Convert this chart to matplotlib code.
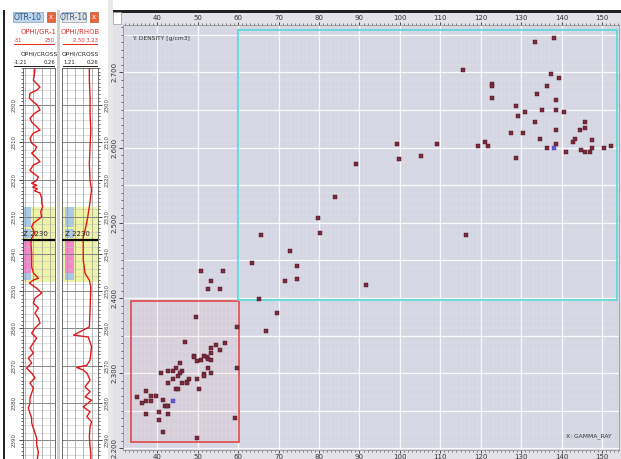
import numpy as np
import matplotlib
matplotlib.use('Agg')
import matplotlib.pyplot as plt
from matplotlib.patches import Rectangle

# ---- crossplot data: X = GAMMA_RAY, Y = DENSITY [g/cm3] ----
gamma_ray = [
    # lower cluster (red box)
    49.6, 59.7, 46.8, 56.7, 54.4, 53.3, 55.6, 53.3, 49.1, 49.1, 51.5, 52.2, 52.6, 50.7,
    49.7, 53.3, 45.6, 44.5, 52.6, 59.7, 42.6, 43.9, 46.2, 45.5, 40.8, 53.2, 45.0, 51.5,
    51.5, 43.8, 49.7, 47.9, 47.3, 42.6, 46.1, 47.3, 50.3, 44.5, 45.0, 37.3, 38.5, 39.7,
    35.0, 41.4, 37.3, 38.5, 36.1, 42.0, 42.6, 42.3, 40.3, 37.3, 42.6, 40.3, 59.1, 41.4,
    49.7,
    # transition
    99.2, 109.3, 99.9, 105.1, 89.2, 83.9, 79.7, 80.3, 65.6, 116.3, 72.7, 63.3, 74.5, 71.5,
    74.5, 91.6, 65.1, 69.7, 50.9, 56.3, 53.2, 52.6, 55.5, 66.8,
    # upper cluster (cyan box)
    133.4, 138.1, 115.7, 137.5, 139.3, 122.7, 122.7, 136.4, 134.0, 122.7, 138.7, 128.7,
    131.0, 135.2, 138.7, 140.5, 129.3, 133.4, 145.8, 145.8, 144.6, 127.5, 130.5, 138.7,
    134.6, 143.4, 147.6, 142.8, 121.1, 119.3, 121.7, 138.7, 136.4, 141.0, 144.7, 145.8,
    147.0, 147.6, 150.5, 152.3, 128.7,
]
density = [
    2.375, 2.361, 2.342, 2.340, 2.337, 2.334, 2.331, 2.327, 2.323, 2.321, 2.323, 2.321, 2.319, 2.318,
    2.316, 2.318, 2.314, 2.307, 2.307, 2.307, 2.303, 2.303, 2.303, 2.300, 2.300, 2.300, 2.297, 2.299,
    2.296, 2.292, 2.292, 2.292, 2.289, 2.287, 2.287, 2.287, 2.279, 2.279, 2.279, 2.276, 2.270, 2.270,
    2.268, 2.265, 2.263, 2.263, 2.260, 2.257, 2.257, 2.257, 2.249, 2.246, 2.246, 2.238, 2.241, 2.222,
    2.214,
    2.605, 2.605, 2.585, 2.589, 2.578, 2.535, 2.506, 2.487, 2.484, 2.484, 2.462, 2.446, 2.442, 2.423,
    2.425, 2.417, 2.399, 2.380, 2.436, 2.436, 2.423, 2.412, 2.412, 2.356,
    2.741, 2.746, 2.703, 2.698, 2.693, 2.684, 2.682, 2.682, 2.671, 2.666, 2.663, 2.655,
    2.647, 2.650, 2.650, 2.647, 2.642, 2.634, 2.634, 2.626, 2.623, 2.620, 2.620, 2.623,
    2.612, 2.612, 2.610, 2.607, 2.607, 2.602, 2.602, 2.605, 2.599, 2.594, 2.597, 2.594,
    2.594, 2.599, 2.599, 2.602, 2.586,
]
# selected (blue) samples
sel_gamma = [43.8, 138.1]
sel_density = [2.263, 2.599]

# zone boxes (x0, x1, y0, y1)
red_box = (33.4, 60.1, 2.208, 2.396)
cyan_box = (60.0, 153.6, 2.398, 2.757)

# ---- log tracks ----
gr_depth = [2290.0, 2291.5, 2293.3, 2295.1, 2296.0, 2296.8, 2298.1, 2299.1, 2300.0, 2301.3,
            2302.1, 2303.5, 2304.5, 2305.8, 2306.7, 2307.5, 2308.9, 2310.2, 2311.2, 2312.1,
            2312.9, 2314.2, 2315.2, 2316.1, 2317.5, 2318.3, 2319.3, 2320.2, 2321.0, 2321.5,
            2322.0, 2322.5, 2323.0, 2323.6, 2325.0, 2326.3, 2327.3, 2328.7, 2330.0, 2330.9,
            2331.7, 2332.7, 2333.6, 2334.4, 2335.7, 2337.1, 2339.8, 2341.6, 2343.4, 2345.1,
            2346.5, 2347.0, 2347.8, 2349.2, 2350.5, 2351.9, 2353.2, 2354.5, 2355.9, 2357.2,
            2358.6, 2359.9, 2361.3, 2362.6, 2363.9, 2365.3, 2366.6, 2368.0, 2369.3, 2370.7,
            2372.0, 2373.3, 2374.7, 2376.0, 2377.4, 2378.7, 2380.1, 2381.4, 2382.8, 2384.1,
            2385.4, 2386.8, 2388.1, 2389.5, 2391.3, 2393.2, 2395.0]
gr_value = [74, 70, 60, 118, 89, 30, 25, 60, 95, 118,
            74, 30, 45, 89, 118, 60, 30, 45, 89, 74,
            45, 89, 118, 60, 30, 60, 104, 89, 45, 89,
            55, 95, 70, 118, 133, 133, 142, 124, 133, 95,
            60, 45, 60, 74, 45, 39, 45, 45, 45, 60,
            104, 60, 25, 89, 133, 74, 60, 104, 74, 104,
            118, 74, 45, 89, 60, 30, 60, 16, 45, 1,
            45, 74, 30, 60, 45, 30, 30, 16, 30, 45,
            45, 60, 74, 89, 89, 104, 95]

rhob_depth = [2290.0, 2293.3, 2297.8, 2302.2, 2306.7, 2311.2, 2315.7, 2320.2, 2322.8, 2327.3,
              2330.9, 2333.6, 2335.4, 2338.1, 2341.6, 2345.2, 2347.0, 2348.8, 2355.1, 2359.6,
              2361.8, 2362.3, 2364.9, 2368.5, 2369.9, 2370.5, 2371.2, 2372.1, 2373.9, 2375.7,
              2377.0, 2378.4, 2379.3, 2381.1, 2382.4, 2383.7, 2385.1, 2386.4, 2389.1, 2391.8,
              2393.6, 2395.1]
rhob_value = [2.71, 2.71, 2.73, 2.73, 2.75, 2.73, 2.71, 2.73, 2.77, 2.71,
              2.65, 2.59, 2.54, 2.54, 2.54, 2.59, 2.71, 2.75, 2.73, 2.71,
              2.27, 2.68, 2.77, 2.73, 2.64, 2.36, 2.54, 2.65, 2.73, 2.59,
              2.73, 2.59, 2.77, 2.54, 2.73, 2.64, 2.77, 2.73, 2.71, 2.73,
              2.75, 2.75]

depth_labels = list(range(2300, 2400, 10))

# ------------------------------------------
W, H = 621, 459
fig = plt.figure(figsize=(W / 100, H / 100), dpi=100)
fig.patch.set_facecolor('white')


def pax(x0, y0, x1, y1):
    return fig.add_axes([x0 / W, 1 - y1 / H, (x1 - x0) / W, (y1 - y0) / H])


def ftxt(x, y, s, **kw):
    fig.text(x / W, 1 - y / H, s, **kw)


def frect(x0, y0, x1, y1, zorder=-1, **kw):
    fig.patches.append(Rectangle((x0 / W, 1 - y1 / H), (x1 - x0) / W, (y1 - y0) / H,
                                 transform=fig.transFigure, zorder=zorder, **kw))


# panel frames
frect(3, 10, 5, 459, color='#222222', lw=0)
frect(57, 10, 60, 459, color='#d0d0d0', lw=0)
frect(108, 0, 113, 459, color='#e8e8e8', lw=0)
frect(113, 10, 621, 459, color='#e2e2e8', lw=0)
frect(113, 10, 621, 12.5, color='#222222', lw=0, zorder=2)
frect(113, 12, 121, 24, facecolor='white', edgecolor='#999999', lw=0.5, zorder=2)


def draw_track(x0, x1, xlim, depth, values, header, tab_color, side):
    # header
    xc = (x0 + x1) / 2
    tx0 = x0 - 10 if side == 'left' else x0
    frect(tx0, 12, x1 - 12, 22, facecolor=tab_color, edgecolor='#8aa0b8', lw=0.5, zorder=2)
    ftxt((tx0 + x1 - 12) / 2, 17, 'OTR-10', fontsize=5.5, color='#2b4f7a', ha='center', va='center')
    frect(x1 - 8, 12.5, x1, 21.5, facecolor='#e8643c', edgecolor='#b04020', lw=0.4, zorder=2)
    ftxt(x1 - 4, 17, 'x', fontsize=5, color='white', ha='center', va='center')
    ftxt(xc, 32, header[0], fontsize=5, color='#e03030', ha='center', va='center')
    if header[1][1]:
        ftxt(header[1][0], 40, header[1][1], fontsize=3.8, color='#e03030', ha='left', va='center')
    ftxt(x1, 40, header[1][2], fontsize=3.8, color='#e03030', ha='right', va='center')
    ftxt(xc, 54, 'OPHI/CROSS', fontsize=4.3, color='#222222', ha='center', va='center')
    ftxt(header[2][0], 62, header[2][1], fontsize=3.8, color='#222222', ha='left', va='center')
    ftxt(x1, 62, header[2][2], fontsize=3.8, color='#222222', ha='right', va='center')
    frect(header[1][0] if header[1][1] else header[2][0], 44.5, x1, 45.2, color='#e03030', lw=0, zorder=2)
    frect(header[2][0], 66.5, x1, 67.2, color='#222222', lw=0, zorder=2)

    ax = pax(x0, 68, x1, 459)
    ax.set_xlim(xlim)
    ax.set_ylim(2395.1, 2290.06)
    ax.set_facecolor('white')
    span = xlim[1] - xlim[0]

    # zones
    ax.axhspan(2327.4, 2347.6, color='#eef3a6', lw=0, zorder=0)
    yt = ax.get_yaxis_transform()
    bx = 0.0 if side == 'left' else 0.08
    bw = 0.24
    for d0, d1, c in [(2327.4, 2332.7, '#a9c8e4'), (2333.2, 2335.8, '#a9c8e4'),
                      (2336.3, 2345.1, '#f08ac8'), (2345.1, 2347.0, '#a9c8e4')]:
        ax.add_patch(Rectangle((bx, d0), bw, d1 - d0, transform=yt, color=c, lw=0, zorder=0.5))

    # grid
    for d in range(2290, 2396, 2):
        ax.axhline(d, color='#c4c4c4', lw=0.4, zorder=1)
    for d in depth_labels:
        ax.axhline(d, color='#7a7a7a', lw=0.6, zorder=1)
    fr = [0.06, 0.32, 0.58, 0.84] if side == 'left' else [0.13, 0.36, 0.59, 0.82]
    for f in fr:
        ax.axvline(xlim[0] + f * span, color='#9a9a9a', lw=0.5, zorder=1)

    ax.plot(values, depth, color='#e01818', lw=1.0, zorder=3)

    # marker line
    ax.axhline(2336.1, color='black', lw=1.6, zorder=4)
    ax.text(0.0 if side == 'left' else 0.08, 2335.3, 'Z 2230', transform=yt, fontsize=5,
            color='#222222', va='bottom', ha='left', zorder=5)

    ax.set_xticks([])
    ax.set_yticks(depth_labels)
    ax.set_yticks(np.arange(2290, 2396, 1), minor=True)
    ax.set_yticklabels([str(d) for d in depth_labels], rotation=90, va='center',
                       fontsize=4, color='#444444')
    if side == 'right':
        ax.yaxis.tick_right()
    ax.tick_params(axis='y', which='major', length=3, width=0.5, pad=1.5)
    ax.tick_params(axis='y', which='minor', length=1.5, width=0.4)
    for s in ax.spines.values():
        s.set_color('#555555')
        s.set_linewidth(0.6)
    return ax


draw_track(23, 55, (-31, 250), gr_depth, gr_value,
           ('OPHI/GR-1', (14, '-31', '250'), (14, '-1.21', '0.26')), '#bcd6ec', 'left')
draw_track(62, 98, (1.95, 2.95), rhob_depth, rhob_value,
           ('OPHI/RHOB', (63, '', '2.50 3.23'), (63, '1.21', '0.26')), '#e6e6e6', 'right')

# ==========================================
# crossplot
# ==========================================
ax = pax(123, 25, 619, 450)
ax.set_xlim(31.5, 154.2)
ax.set_ylim(2.198, 2.763)
ax.set_facecolor('#d4d6e3')

# fine grid and main grid
for v in np.arange(32, 155, 1):
    ax.axvline(v, color='white', lw=0.3, alpha=0.35, zorder=0)
for v in np.arange(2.20, 2.77, 0.01):
    ax.axhline(v, color='white', lw=0.3, alpha=0.35, zorder=0)
for v in np.arange(40, 155, 10):
    ax.axvline(v, color='white', lw=0.9, alpha=0.85, zorder=0.5)
for v in np.arange(2.20, 2.77, 0.05):
    ax.axhline(v, color='white', lw=0.9, alpha=0.85, zorder=0.5)

ax.add_patch(Rectangle((red_box[0], red_box[2]), red_box[1] - red_box[0], red_box[3] - red_box[2],
                       facecolor=(1, 0.4, 0.4, 0.06), edgecolor='#e04848', lw=1.2, zorder=2))
ax.add_patch(Rectangle((cyan_box[0], cyan_box[2]), cyan_box[1] - cyan_box[0], cyan_box[3] - cyan_box[2],
                       facecolor='none', edgecolor='#5fd8dc', lw=1.3, zorder=2))

ax.plot(gamma_ray, density, 's', ms=2.2, color='#7c2a3c', mec='#3e141e', mew=0.3, zorder=3)
ax.plot(sel_gamma, sel_density, 's', ms=2.2, color='#6a5adc', mec='#4a3aa0', mew=0.3, zorder=4)

ax.text(0.018, 0.975, 'Y: DENSITY [g/cm3]', transform=ax.transAxes, fontsize=4.3,
        color='#333333', va='top', ha='left')
ax.text(0.985, 0.025, 'X: GAMMA_RAY', transform=ax.transAxes, fontsize=4.3,
        color='#333333', va='bottom', ha='right')

ax.set_xticks(np.arange(40, 155, 10))
ax.set_xticks(np.arange(32, 155, 1), minor=True)
ax.set_yticks(np.arange(2.2, 2.75, 0.1))
ax.set_yticks(np.arange(2.20, 2.77, 0.01), minor=True)
ax.set_yticklabels(['%.3f' % v for v in np.arange(2.2, 2.75, 0.1)], rotation=90, va='center')
ax.tick_params(axis='x', which='both', top=True, labeltop=True, bottom=True, labelbottom=True,
               direction='out', labelsize=5, pad=0.5, colors='#333333')
ax.tick_params(axis='x', which='major', length=2.5, width=0.6)
ax.tick_params(axis='x', which='minor', length=1.2, width=0.4)
ax.tick_params(axis='y', which='major', length=3, width=0.6, labelsize=5, pad=1, colors='#333333')
ax.tick_params(axis='y', which='minor', length=1.5, width=0.4)
for s in ax.spines.values():
    s.set_color('#888888')
    s.set_linewidth(0.5)

fig.savefig('out.png', dpi=100)
